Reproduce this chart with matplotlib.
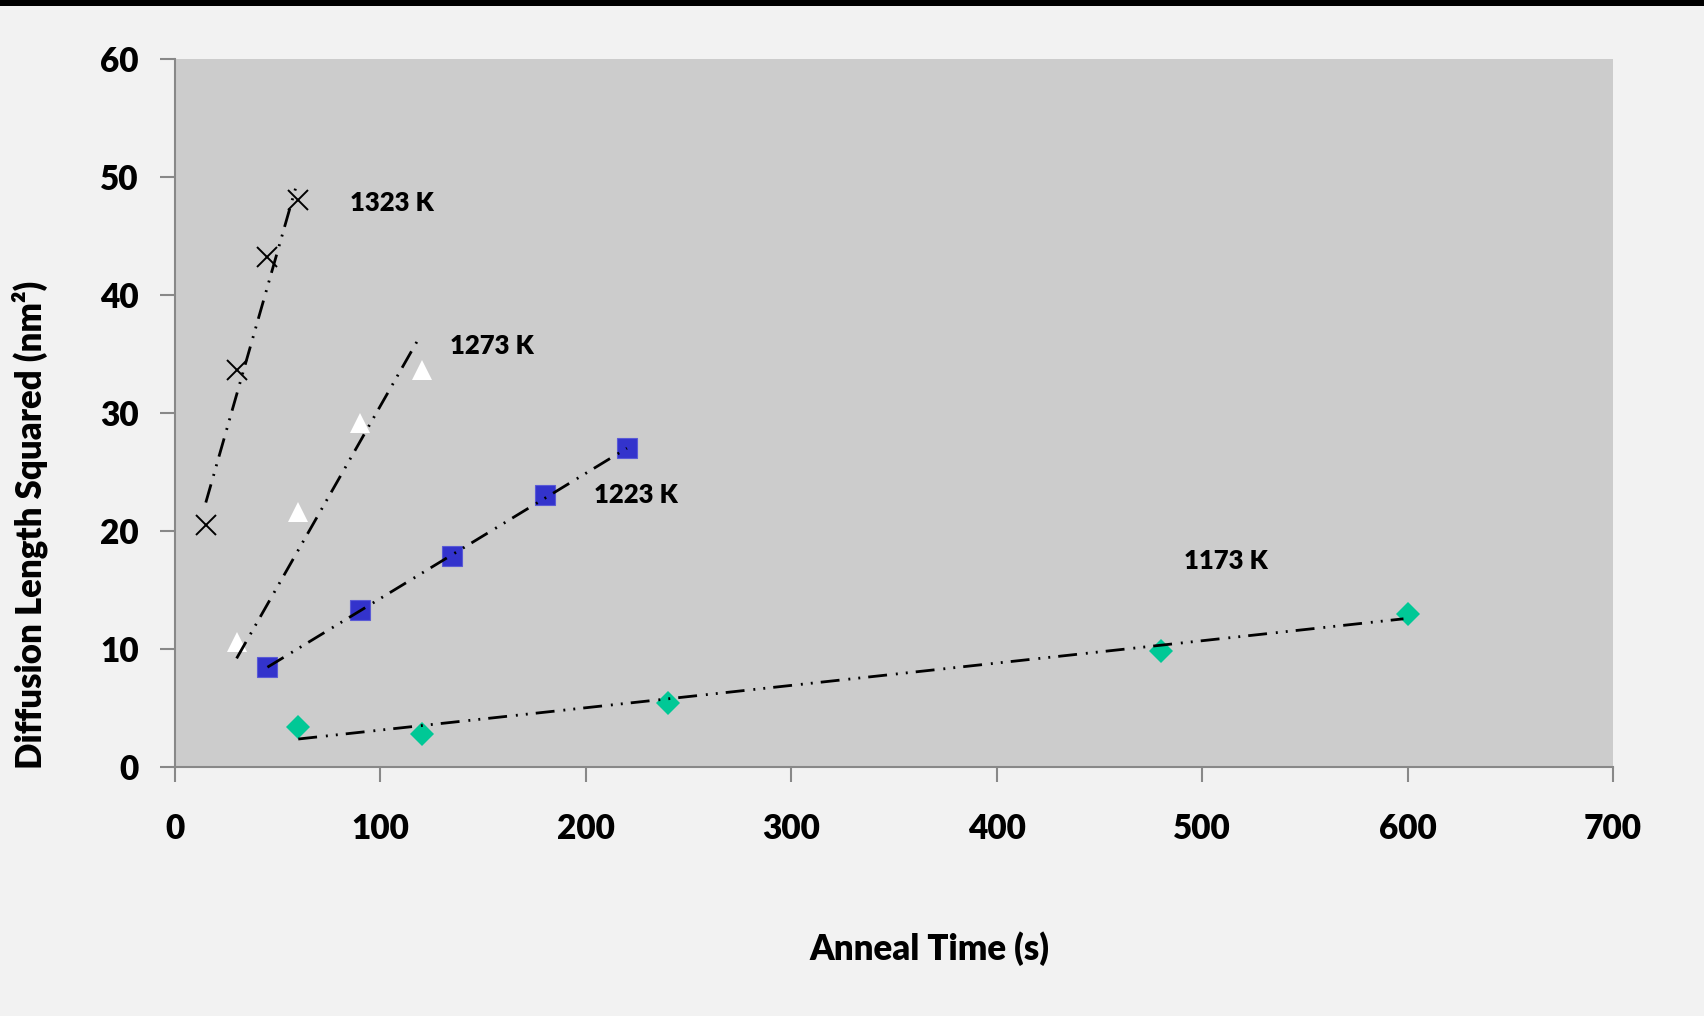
import matplotlib
matplotlib.use("Agg")
import matplotlib.pyplot as plt
from matplotlib.patches import Rectangle

plt.rcParams['font.family'] = ['Lato', 'DejaVu Sans']
plt.rcParams['font.weight'] = 'heavy'

# --- data ---
t_1323 = [15, 30, 45, 60]
d_1323 = [20.5, 33.6, 43.2, 48.0]
fit_t_1323 = [15, 59]
fit_d_1323 = [22.4, 49.2]

t_1273 = [30, 60, 90, 120]
d_1273 = [10.6, 21.6, 29.1, 33.6]
fit_t_1273 = [30, 119]
fit_d_1273 = [9.2, 36.4]

t_1223 = [45, 90, 135, 180, 220]
d_1223 = [8.45, 13.3, 17.85, 23.05, 27.0]
fit_t_1223 = [45, 220]
fit_d_1223 = [8.45, 27.0]

t_1173 = [60, 120, 240, 480, 600]
d_1173 = [3.35, 2.8, 5.45, 9.8, 13.0]
fit_t_1173 = [60, 598]
fit_d_1173 = [2.37, 12.55]

labels = ["1323 K", "1273 K", "1223 K", "1173 K"]
label_x = [85, 134, 204, 491]
label_y = [47.8, 35.7, 23.0, 17.45]

xticks = [0, 100, 200, 300, 400, 500, 600, 700]
yticks = [0, 10, 20, 30, 40, 50, 60]

fig = plt.figure(figsize=(17.04, 10.16), dpi=100, facecolor='#f2f2f2')
fig.patches.append(Rectangle((0, 1 - 6/1016), 1, 6/1016, transform=fig.transFigure,
                             facecolor='black', edgecolor='none'))
ax = fig.add_axes([175/1704, 249/1016, (1613-175)/1704, (766-57.6)/1016])
ax.set_facecolor('#cccccc')

lw = 2.0
dashes = (6.8, 3.2, 0.7, 2.9, 0.7, 2.9)
for ft, fd in [(fit_t_1323, fit_d_1323), (fit_t_1273, fit_d_1273),
               (fit_t_1223, fit_d_1223), (fit_t_1173, fit_d_1173)]:
    ax.plot(ft, fd, color='black', lw=lw, dashes=dashes, dash_capstyle='butt', zorder=3)

ax.plot(t_1323, d_1323, linestyle='none', marker='x', ms=14, mew=1.4, color='black', zorder=2)
ax.plot(t_1273, d_1273, linestyle='none', marker='^', ms=14.5, mew=0, color='white', zorder=2)
ax.plot(t_1223, d_1223, linestyle='none', marker='s', ms=14, mfc='#3333cc', mec='#5a5ad6',
        mew=0.8, zorder=2)
ax.plot(t_1173, d_1173, linestyle='none', marker='D', ms=12.5, mew=0, color='#00c896', zorder=2)

for lab, lx, ly in zip(labels, label_x, label_y):
    ax.text(lx, ly, lab, fontsize=18.5, fontweight='heavy', ha='left', va='center', color='black')

ax.set_xlim(0, 700)
ax.set_ylim(0, 60)
ax.set_xticks(xticks)
ax.set_yticks(yticks)
ax.tick_params(axis='both', direction='out', length=11, width=1.5, color='#888888',
               labelsize=24)
ax.tick_params(axis='x', pad=22)
ax.tick_params(axis='y', pad=15)
for lbl in ax.get_xticklabels() + ax.get_yticklabels():
    lbl.set_fontweight('heavy')

for s in ['top', 'right']:
    ax.spines[s].set_visible(False)
for s in ['left', 'bottom']:
    ax.spines[s].set_color('#888888')
    ax.spines[s].set_linewidth(1.5)

fig.text(929/1704, 1 - 949/1016, 'Anneal Time (s)', fontsize=25, fontweight='heavy',
         ha='center', va='center')
fig.text(30/1704, 1 - 525/1016, 'Diffusion Length Squared (nm²)', fontsize=25,
         fontweight='heavy', ha='center', va='center', rotation=90)

fig.savefig('out.png', dpi=100, facecolor=fig.get_facecolor())
